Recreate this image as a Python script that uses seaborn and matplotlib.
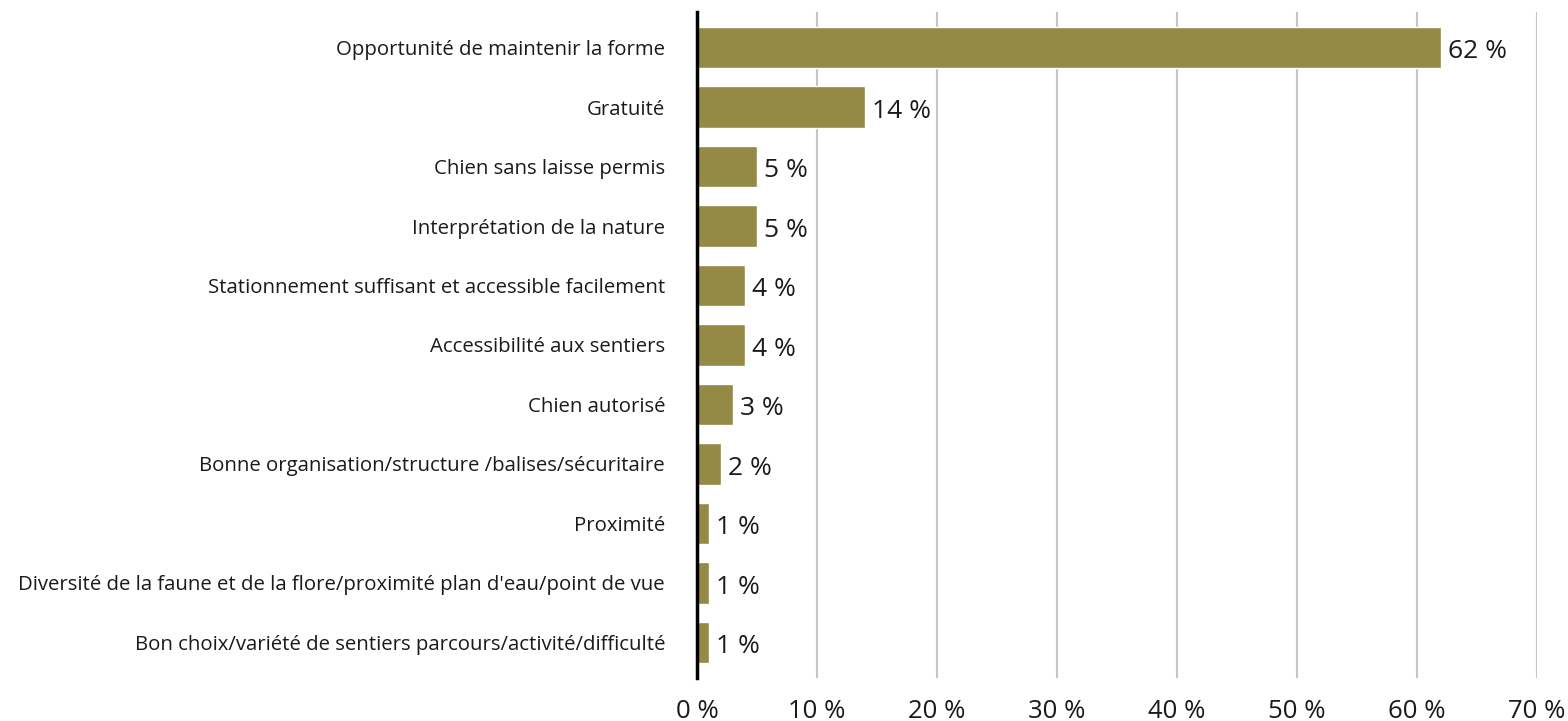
import matplotlib.pyplot as plt
import seaborn as sns
import pandas as pd

categories = [
    "Opportunité de maintenir la forme",
    "Gratuité",
    "Chien sans laisse permis",
    "Interprétation de la nature",
    "Stationnement suffisant et accessible facilement",
    "Accessibilité aux sentiers",
    "Chien autorisé",
    "Bonne organisation/structure /balises/sécuritaire",
    "Proximité",
    "Diversité de la faune et de la flore/proximité plan d'eau/point de vue",
    "Bon choix/variété de sentiers parcours/activité/difficulté",
]
values = [62, 14, 5, 5, 4, 4, 3, 2, 1, 1, 1]
x_ticks = [0, 10, 20, 30, 40, 50, 60, 70]

bar_color = "#958A45"

sns.set_style("white")
plt.rcParams['font.family'] = ['Open Sans', 'DejaVu Sans']

df = pd.DataFrame({"categorie": categories, "pourcentage": values})

fig = plt.figure(figsize=(15.68, 7.21), dpi=100)
ax = fig.add_axes([0.4445, 0.0596, 0.5357, 0.9238])

sns.barplot(data=df, x="pourcentage", y="categorie", color=bar_color,
            width=0.7, saturation=1, ax=ax)

for container in ax.containers:
    anns = ax.bar_label(container, labels=[f"{v} %" for v in values],
                        padding=5, fontsize=19, color="#1a1a1a")
    # nudge labels down a little, like the reference
    for a in anns:
        a.xyann = (5, -3)

ax.set_xlim(0, 70)
ax.set_ylim(10.6, -0.6)
ax.set_xticks(x_ticks)
ax.set_xticklabels([f"{t} %" for t in x_ticks], fontsize=18.5, color="#1a1a1a")
ax.tick_params(axis="x", length=0, pad=15)
ax.tick_params(axis="y", length=0, pad=23, labelsize=14.7, labelcolor="#1a1a1a")
ax.set_xlabel("")
ax.set_ylabel("")

ax.xaxis.grid(True, color="#c4c4c4", linewidth=1.5)
ax.set_axisbelow(True)
for side in ["top", "right", "bottom"]:
    ax.spines[side].set_visible(False)
ax.spines["left"].set_color("black")
ax.spines["left"].set_linewidth(2.5)
ax.spines["left"].set_zorder(5)

plt.savefig("out.png", dpi=100)
plt.close()
